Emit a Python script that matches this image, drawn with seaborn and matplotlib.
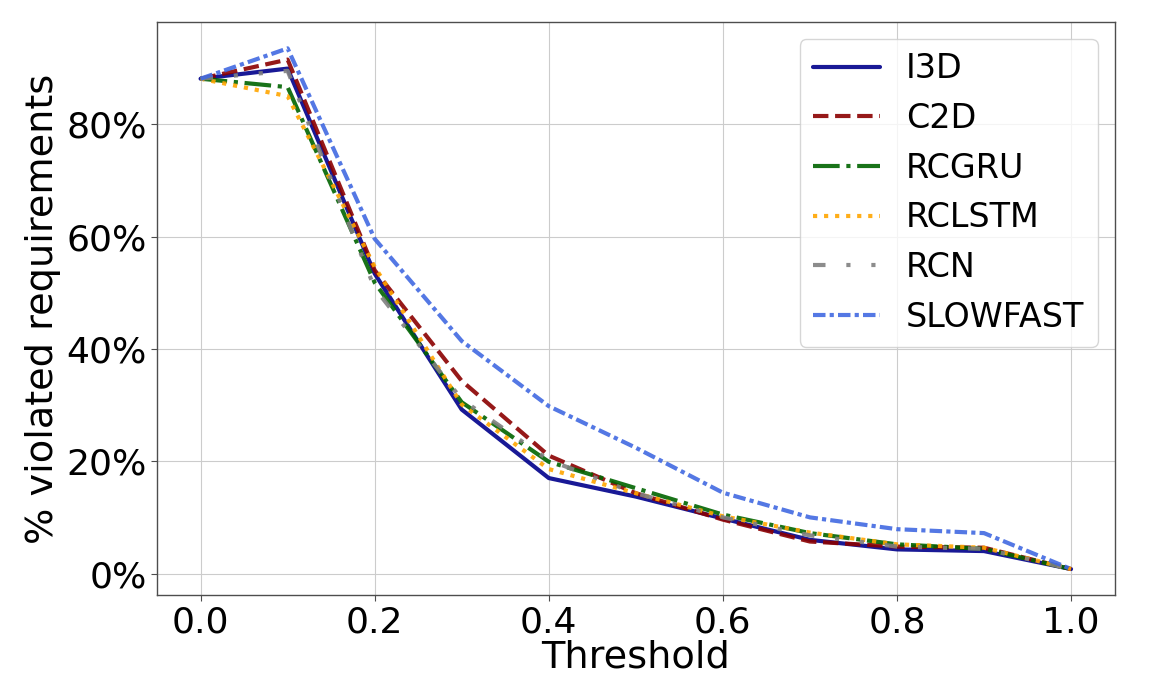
import seaborn as sns
import matplotlib
matplotlib.use("Agg")
import matplotlib.pyplot as plt
from matplotlib.ticker import PercentFormatter
import pandas as pd

thresholds = [0.0, 0.1, 0.2, 0.3, 0.4, 0.5, 0.6, 0.7, 0.8, 0.9, 1.0]

i3d = [88.1, 89.9, 53.4, 29.2, 17.0, 13.7, 9.8, 6.0, 4.3, 4.0, 0.8]
c2d = [88.1, 91.5, 54.0, 34.3, 21.0, 14.3, 9.6, 5.7, 4.8, 4.6, 0.8]
rcgru = [88.1, 86.6, 51.8, 30.5, 19.9, 15.2, 10.5, 7.2, 5.2, 4.4, 0.8]
rclstm = [88.1, 85.0, 54.6, 30.1, 18.6, 14.3, 10.2, 7.3, 5.2, 4.6, 0.8]
rcn = [88.1, 89.5, 50.8, 31.0, 20.2, 14.3, 10.0, 6.8, 4.8, 4.4, 0.8]
slowfast = [88.1, 93.5, 59.6, 41.4, 29.8, 22.4, 14.4, 10.0, 7.9, 7.2, 0.8]

models = ["I3D", "C2D", "RCGRU", "RCLSTM", "RCN", "SLOWFAST"]
series = [i3d, c2d, rcgru, rclstm, rcn, slowfast]

colors = {"I3D": "darkblue", "C2D": "darkred", "RCGRU": "darkgreen",
          "RCLSTM": "orange", "RCN": "gray", "SLOWFAST": "royalblue"}
dash_map = {"I3D": "", "C2D": (3.7, 1.6), "RCGRU": (6.4, 1.6, 1, 1.6),
            "RCLSTM": (1, 1.65), "RCN": (3, 5, 1, 5, 1, 5),
            "SLOWFAST": (3, 1, 1, 1)}

rows = []
for name, vals in zip(models, series):
    for t, v in zip(thresholds, vals):
        rows.append({"Threshold": t, "value": v, "model": name})
df = pd.DataFrame(rows)

sns.set_style("whitegrid", {"axes.edgecolor": "0.3", "grid.color": "0.8",
                            "xtick.bottom": True, "ytick.left": True,
                            "text.color": "black", "axes.labelcolor": "black",
                            "xtick.color": "black", "ytick.color": "black"})
plt.rcParams["font.family"] = ["DejaVu Sans"]

fig, ax = plt.subplots(figsize=(11.72, 6.77), dpi=100)
fig.subplots_adjust(left=0.134, right=0.951, top=0.967, bottom=0.121)

sns.lineplot(data=df, x="Threshold", y="value", hue="model", style="model",
             hue_order=models, style_order=models, palette=colors,
             dashes=dash_map, linewidth=3, alpha=0.9, ax=ax)

ax.yaxis.set_major_formatter(PercentFormatter(decimals=0))
ax.set_yticks([0, 20, 40, 60, 80])
ax.set_xticks(thresholds[::2])
ax.set_xticklabels(["0.0", "0.2", "0.4", "0.6", "0.8", "1.0"])
ax.tick_params(axis="both", labelsize=26, length=4, color="0.3")
ax.set_xlabel("Threshold", fontsize=27.5, labelpad=0)
ax.set_ylabel("% violated requirements", fontsize=27.5)
for s in ax.spines.values():
    s.set_linewidth(1)

leg = ax.legend(loc="upper right", fontsize=24)
for t in leg.get_texts():
    t.set_color("black")

plt.savefig("out.png", dpi=100)
